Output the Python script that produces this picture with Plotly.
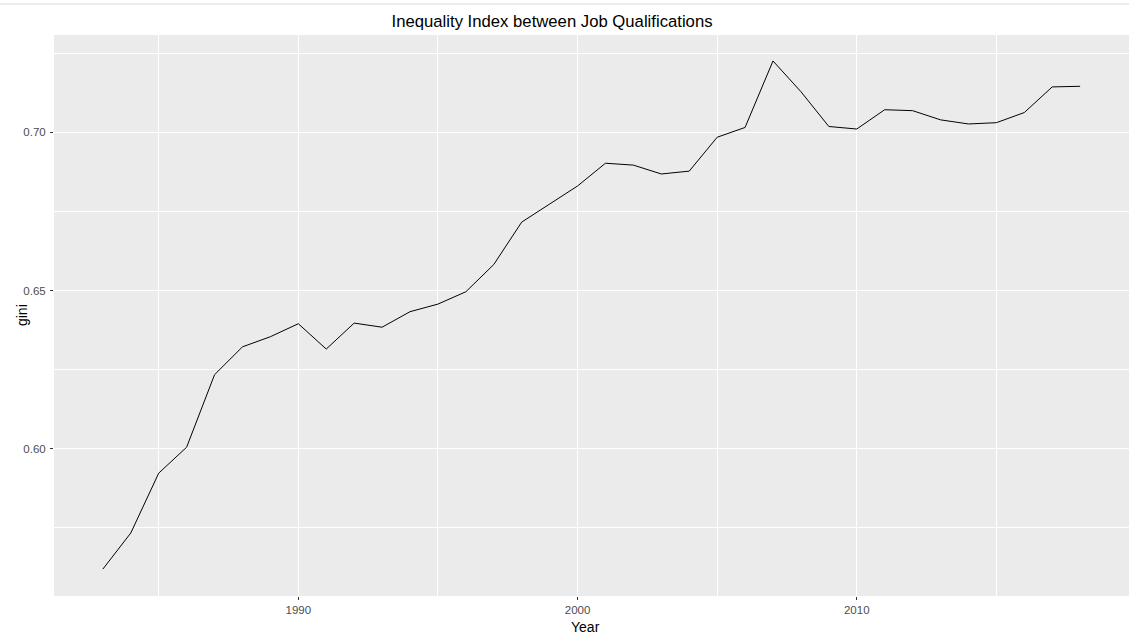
import plotly.graph_objects as go

# gini index by year
years = list(range(1983, 2019))
gini = [0.5620, 0.5734, 0.5923, 0.6005, 0.6234, 0.6322, 0.6354, 0.6395,
        0.6315, 0.6397, 0.6384, 0.6433, 0.6457, 0.6496, 0.6582, 0.6716,
        0.6773, 0.6830, 0.6902, 0.6896, 0.6868, 0.6877, 0.6984, 0.7015,
        0.7225, 0.7128, 0.7018, 0.7010, 0.7071, 0.7068, 0.7039, 0.7026,
        0.7030, 0.7062, 0.7143, 0.7145]

x_ticks = [1990, 2000, 2010]
x_minor = [1985, 1995, 2005, 2015]
y_ticks = [0.60, 0.65, 0.70]
y_minor = [0.575, 0.625, 0.675, 0.725]

fig = go.Figure()
fig.add_trace(go.Scatter(
    x=years, y=gini, mode='lines',
    line=dict(color='black', width=1),
    showlegend=False,
))

axis_font = dict(family='Liberation Sans, Arial, sans-serif', size=11.5, color='#4D4D4D')
title_font = dict(family='Liberation Sans, Arial, sans-serif', size=14, color='black')

fig.update_layout(
    width=1129, height=637,
    margin=dict(l=54, r=0, t=35, b=41),
    paper_bgcolor='white',
    plot_bgcolor='#EBEBEB',
    font=dict(family='Liberation Sans, Arial, sans-serif', color='black'),
    title=dict(
        text='Inequality Index between Job Qualifications',
        x=0.4633, xref='paper', xanchor='center',
        y=0.967, yref='container', yanchor='middle',
        font=dict(size=16.7, color='black'),
    ),
    xaxis=dict(
        range=[1981.25, 2019.75],
        tickvals=x_ticks,
        ticks='outside', ticklen=3, tickcolor='#333333', tickwidth=1,
        tickfont=axis_font,
        showgrid=True, gridcolor='white', gridwidth=1.3,
        minor=dict(tickvals=x_minor, showgrid=True,
                   gridcolor='white', gridwidth=0.7, ticks=''),
        zeroline=False, showline=False,
    ),
    yaxis=dict(
        range=[0.5535, 0.7307],
        tickvals=y_ticks,
        tickformat='.2f',
        ticks='outside', ticklen=3, tickcolor='#333333', tickwidth=1,
        ticklabelstandoff=2,
        tickfont=axis_font,
        showgrid=True, gridcolor='white', gridwidth=1.3,
        minor=dict(tickvals=y_minor, showgrid=True,
                   gridcolor='white', gridwidth=0.7, ticks=''),
        zeroline=False, showline=False,
    ),
    annotations=[
        dict(text='Year', x=0.494, y=-0.0553, xref='paper', yref='paper',
             xanchor='center', yanchor='middle', showarrow=False, font=title_font),
        dict(text='gini', x=-0.0302, y=0.5, xref='paper', yref='paper',
             xanchor='center', yanchor='middle', textangle=-90,
             showarrow=False, font=title_font),
    ],
    shapes=[dict(
        type='line', xref='paper', yref='paper',
        x0=-0.06, x1=1.0, y0=1.0553, y1=1.0553,
        line=dict(color='#D9D9D9', width=1),
    )],
)

# drop the page's default body margin so the figure sits at the window's corner
fig.write_html("out.html", config={'displayModeBar': False},
               post_script="document.body.style.margin='0';")
